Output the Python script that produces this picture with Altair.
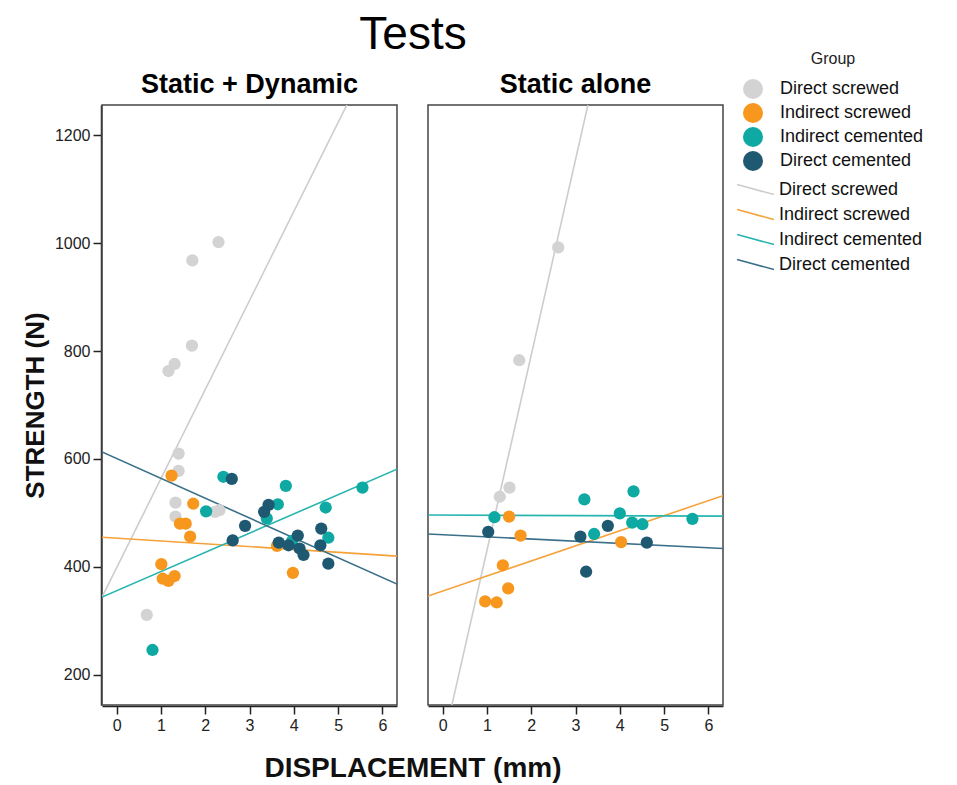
import altair as alt
import pandas as pd

groups = ["Direct screwed", "Indirect screwed", "Indirect cemented", "Direct cemented"]
tests = ["Static + Dynamic", "Static alone"]
point_colors = ["#d3d3d3", "#f7971e", "#0fa9a3", "#1e5871"]
line_colors = ["#cdcdcd", "#f5a23a", "#28b5b0", "#3a7089"]

# ---- Static + Dynamic: points ----
sd_ds_x = [2.30, 1.71, 1.70, 1.31, 1.17, 1.40, 1.40, 1.33, 1.33, 2.22, 2.32, 0.68]
sd_ds_y = [1002, 968, 810, 776, 763, 610, 578, 519, 493, 502, 505, 311]
sd_is_x = [1.24, 1.73, 1.43, 1.56, 1.66, 1.01, 1.04, 1.17, 1.31, 3.62, 3.98]
sd_is_y = [569, 517, 480, 480, 456, 405, 378, 374, 383, 439, 389]
sd_ic_x = [2.41, 2.02, 3.82, 3.64, 3.39, 4.72, 5.55, 4.78, 3.96, 0.81]
sd_ic_y = [567, 503, 550, 516, 490, 510, 547, 454, 448, 246]
sd_dc_x = [2.60, 3.43, 3.33, 2.90, 2.62, 3.66, 3.88, 4.09, 4.13, 4.22, 4.62, 4.60, 4.78]
sd_dc_y = [563, 515, 502, 476, 449, 445, 440, 458, 434, 422, 471, 440, 406]

# ---- Static alone: points ----
sa_ds_x = [2.61, 1.73, 1.51, 1.29]
sa_ds_y = [992, 783, 547, 530]
sa_is_x = [1.50, 1.76, 1.36, 1.48, 0.96, 1.22, 4.03]
sa_is_y = [493, 458, 403, 360, 336, 334, 446]
sa_ic_x = [1.17, 3.20, 4.31, 4.00, 4.28, 4.51, 3.42, 5.64]
sa_ic_y = [492, 525, 540, 499, 482, 479, 461, 489]
sa_dc_x = [1.03, 3.11, 3.73, 4.61, 3.24]
sa_dc_y = [465, 456, 476, 445, 391]

# ---- Fit lines (end points) ----
sd_fit_x = {"Direct screwed": [-0.33, 6.33], "Indirect screwed": [-0.33, 6.33],
            "Indirect cemented": [-0.33, 6.33], "Direct cemented": [-0.33, 6.33]}
sd_fit_y = {"Direct screwed": [344, 1443], "Indirect screwed": [455, 420],
            "Indirect cemented": [344, 581], "Direct cemented": [613, 368]}
sa_fit_x = {"Direct screwed": [0.21, 3.28], "Indirect screwed": [-0.33, 6.33],
            "Indirect cemented": [-0.33, 6.33], "Direct cemented": [-0.33, 6.33]}
sa_fit_y = {"Direct screwed": [144, 1256], "Indirect screwed": [346, 532],
            "Indirect cemented": [496, 494], "Direct cemented": [461, 434]}

x_ticks = [0, 1, 2, 3, 4, 5, 6]
y_ticks = [200, 400, 600, 800, 1000, 1200]

rows = []
pts = {
    "Static + Dynamic": [(sd_ds_x, sd_ds_y), (sd_is_x, sd_is_y), (sd_ic_x, sd_ic_y), (sd_dc_x, sd_dc_y)],
    "Static alone": [(sa_ds_x, sa_ds_y), (sa_is_x, sa_is_y), (sa_ic_x, sa_ic_y), (sa_dc_x, sa_dc_y)],
}
for t in tests:
    for g, (xs, ys) in zip(groups, pts[t]):
        for xv, yv in zip(xs, ys):
            rows.append(dict(test=t, group=g, fitgroup=None, x=xv, y=yv, kind="point"))
fits = {"Static + Dynamic": (sd_fit_x, sd_fit_y), "Static alone": (sa_fit_x, sa_fit_y)}
for t in tests:
    fx, fy = fits[t]
    for g in groups:
        for xv, yv in zip(fx[g], fy[g]):
            rows.append(dict(test=t, group=None, fitgroup=g, x=xv, y=yv, kind="line"))
df = pd.DataFrame(rows)

FONT = "Liberation Sans"

xenc = alt.X("x:Q", scale=alt.Scale(domain=[-0.33, 6.33], nice=False, zero=False),
             axis=alt.Axis(values=x_ticks, title=None, format="d"))
yenc = alt.Y("y:Q", scale=alt.Scale(domain=[144, 1256], nice=False, zero=False),
             axis=alt.Axis(values=y_ticks, title="STRENGTH (N)", format="d"))

lines = alt.Chart().transform_filter(alt.datum.kind == "line").mark_line(
    clip=True, strokeWidth=1.6
).encode(
    x=xenc, y=yenc,
    stroke=alt.Stroke("fitgroup:N", sort=groups, scale=alt.Scale(range=line_colors),
                      legend=alt.Legend(title=None, symbolType="M-2,-0.55L2,0.55",
                                        symbolSize=340, symbolStrokeWidth=1.6,
                                        labelOffset=13, orient="none",
                                        legendX=643, legendY=74, rowPadding=5)),
    detail="fitgroup:N",
    order="x:Q",
)

points = alt.Chart().transform_filter(alt.datum.kind == "point").mark_circle(
    size=150, opacity=1
).encode(
    x=xenc, y=yenc,
    fill=alt.Fill("group:N", scale=alt.Scale(domain=groups, range=point_colors),
                  legend=alt.Legend(title="Group", symbolType="circle", symbolSize=400,
                                    symbolOpacity=1, orient="none", labelOffset=16,
                                    legendX=640, legendY=-54, titleAnchor="middle",
                                    titlePadding=11, rowPadding=3)),
)

chart = alt.layer(lines, points, data=df).properties(width=295, height=600).facet(
    column=alt.Column("test:N", sort=tests, title="Tests",
                      header=alt.Header(titleFontSize=46, titleFont=FONT, titleFontWeight="normal",
                                        titleColor="black", titlePadding=2,
                                        labelFontSize=27, labelFont=FONT, labelFontWeight="bold",
                                        labelColor="black", labelPadding=5)),
    spacing=29,
).properties(
    padding={"left": 14, "top": 4, "right": 4, "bottom": 4},
    title=alt.TitleParams("DISPLACEMENT (mm)", orient="bottom", anchor="middle", frame="group",
                          fontSize=28, font=FONT, fontWeight="bold", color="#111", offset=22,
                          dx=311),
).configure_axis(
    grid=False, domainColor="#222", domainWidth=1.5, tickColor="#222", tickSize=8,
    tickWidth=1.5, labelFontSize=16, labelFont=FONT, labelColor="#222",
    titleFontSize=26, titleFont=FONT, titleFontWeight="bold", titleColor="#111",
    labelPadding=3,
).configure_axisY(titlePadding=6).configure_view(
    stroke="#444", strokeWidth=1.5
).configure_legend(
    labelFontSize=18, labelFont=FONT, labelColor="#111", titleFontSize=16, titleFont=FONT,
    titleFontWeight="normal", titleColor="#222",
)

chart.save("out.html", embed_options={"renderer": "svg", "actions": False})
